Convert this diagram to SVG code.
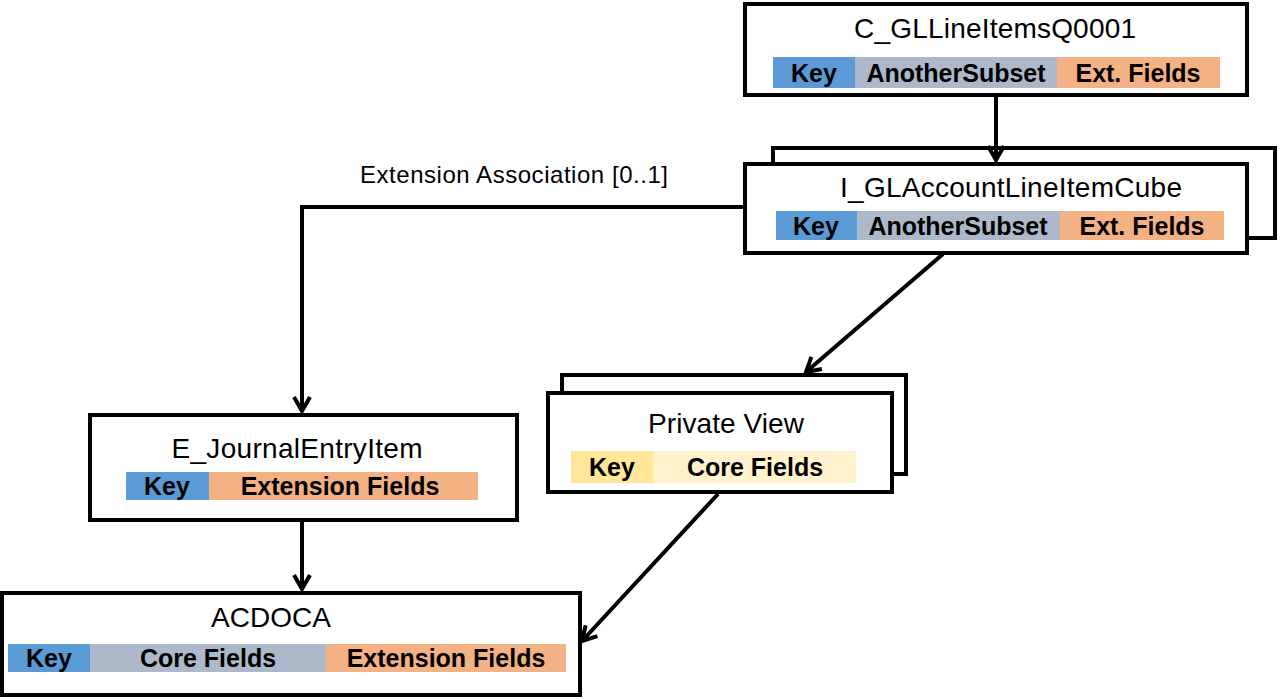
<svg xmlns="http://www.w3.org/2000/svg" width="1280" height="700" viewBox="0 0 1280 700">
<defs>
<style>
.box{fill:#fff;stroke:#000;stroke-width:4}
.title{font-family:"Liberation Sans",Arial,sans-serif;font-size:28px;fill:#000;text-anchor:middle}
.lab{font-family:"Liberation Sans",Arial,sans-serif;font-size:25px;font-weight:bold;fill:#000;text-anchor:middle}
.note{font-family:"Liberation Sans",Arial,sans-serif;font-size:24px;fill:#000;text-anchor:middle}
.key{fill:#5B9BD5}
.sub{fill:#ADB9CA}
.ext{fill:#F4B183}
.pkey{fill:#FFE699}
.pcore{fill:#FFF2CC}
.conn{fill:none;stroke:#000;stroke-width:4;marker-end:url(#arr)}
</style>
<marker id="arr" markerUnits="userSpaceOnUse" markerWidth="24" markerHeight="24" viewBox="-18 -12 24 24" refX="0" refY="0" orient="auto">
<path d="M -14 -8 L 0 0 L -14 8" fill="none" stroke="#000" stroke-width="4" stroke-linejoin="miter"/>
</marker>
</defs>
<rect width="1280" height="700" fill="#fff"/>

<g id="C_GLLineItemsQ0001">
<rect class="box" x="745" y="4" width="502" height="91"/>
<text class="title" x="995" y="38" textLength="282" lengthAdjust="spacing">C_GLLineItemsQ0001</text>
<rect class="key" x="773" y="57" width="82" height="31"/>
<rect class="sub" x="855" y="57" width="202" height="31"/>
<rect class="ext" x="1057" y="57" width="163" height="31"/>
<text class="lab" x="814" y="82">Key</text>
<text class="lab" x="956" y="82">AnotherSubset</text>
<text class="lab" x="1138" y="82">Ext. Fields</text>
</g>

<g id="I_GLAccountLineItemCube">
<rect class="box" x="773" y="148" width="502" height="90"/>
<rect class="box" x="745" y="164" width="502" height="89"/>
<text class="title" x="1011" y="197" textLength="342" lengthAdjust="spacing">I_GLAccountLineItemCube</text>
<rect class="key" x="776" y="211" width="81" height="29"/>
<rect class="sub" x="857" y="211" width="203" height="29"/>
<rect class="ext" x="1060" y="211" width="164" height="29"/>
<text class="lab" x="816" y="235">Key</text>
<text class="lab" x="958" y="235">AnotherSubset</text>
<text class="lab" x="1142" y="235">Ext. Fields</text>
</g>

<g id="PrivateView">
<rect class="box" x="562" y="375" width="344" height="99"/>
<rect class="box" x="548" y="393" width="344" height="99"/>
<text class="title" x="726" y="433" textLength="156" lengthAdjust="spacing">Private View</text>
<rect class="pkey" x="571" y="451" width="82" height="32"/>
<rect class="pcore" x="653" y="451" width="203" height="32"/>
<text class="lab" x="612" y="476">Key</text>
<text class="lab" x="755" y="476">Core Fields</text>
</g>

<g id="E_JournalEntryItem">
<rect class="box" x="90" y="415" width="427" height="105"/>
<text class="title" x="297" y="458" textLength="251" lengthAdjust="spacing">E_JournalEntryItem</text>
<rect class="key" x="126" y="472" width="83" height="28"/>
<rect class="ext" x="209" y="472" width="269" height="28"/>
<text class="lab" x="167" y="495">Key</text>
<text class="lab" x="340" y="495">Extension Fields</text>
</g>

<g id="ACDOCA">
<rect class="box" x="2" y="593" width="578" height="102"/>
<text class="title" x="271" y="627" textLength="120" lengthAdjust="spacing">ACDOCA</text>
<rect class="key" x="8" y="644" width="82" height="28"/>
<rect class="sub" x="90" y="644" width="236" height="28"/>
<rect class="ext" x="326" y="644" width="240" height="28"/>
<text class="lab" x="49" y="667">Key</text>
<text class="lab" x="208" y="667">Core Fields</text>
<text class="lab" x="446" y="667">Extension Fields</text>
</g>

<g id="connectors">
<path class="conn" d="M 996 97 L 996 160"/>
<path class="conn" d="M 743 207 L 302 207 L 302 411"/>
<path class="conn" d="M 943 254 L 806 372"/>
<path class="conn" d="M 302 522 L 302 589"/>
<path class="conn" d="M 718 494 L 582 641"/>
<text class="note" x="514" y="183" textLength="308" lengthAdjust="spacing">Extension Association [0..1]</text>
</g>
</svg>
